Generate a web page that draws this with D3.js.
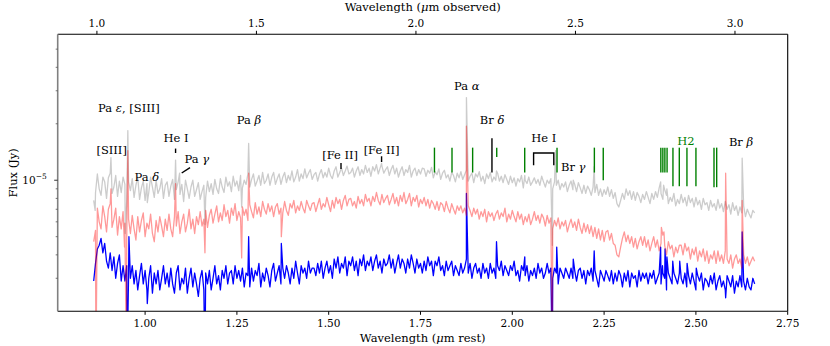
<!DOCTYPE html>
<html><head><meta charset="utf-8">
<script src="https://cdn.jsdelivr.net/npm/d3@7/dist/d3.min.js"></script>
<style>body{margin:0;background:#fff}svg{display:block}text{font-family:"DejaVu Serif",serif}</style>
</head><body><svg id="c" width="830" height="346"></svg>
<script>
// ---------------- DATA ----------------
// rest-frame wavelength grid (micron)
const wavelength = [
0.86,0.865,0.87,0.875,0.88,0.885,0.89,0.895,0.9,0.905,0.91,0.915,0.92,0.925,0.93,0.935,0.94,0.945,0.95,0.955,
0.96,0.965,0.97,0.975,0.98,0.985,0.99,0.995,1.0,1.005,1.01,1.015,1.02,1.025,1.03,1.035,1.04,1.045,1.05,1.055,
1.06,1.065,1.07,1.075,1.08,1.085,1.09,1.095,1.1,1.105,1.11,1.115,1.12,1.125,1.13,1.135,1.14,1.145,1.15,1.155,
1.16,1.165,1.17,1.175,1.18,1.185,1.19,1.195,1.2,1.205,1.21,1.215,1.22,1.225,1.23,1.235,1.24,1.245,1.25,1.255,
1.26,1.265,1.27,1.275,1.28,1.285,1.29,1.295,1.3,1.305,1.31,1.315,1.32,1.325,1.33,1.335,1.34,1.345,1.35,1.355,
1.36,1.365,1.37,1.375,1.38,1.385,1.39,1.395,1.4,1.405,1.41,1.415,1.42,1.425,1.43,1.435,1.44,1.445,1.45,1.455,
1.46,1.465,1.47,1.475,1.48,1.485,1.49,1.495,1.5,1.505,1.51,1.515,1.52,1.525,1.53,1.535,1.54,1.545,1.55,1.555,
1.56,1.565,1.57,1.575,1.58,1.585,1.59,1.595,1.6,1.605,1.61,1.615,1.62,1.625,1.63,1.635,1.64,1.645,1.65,1.655,
1.66,1.665,1.67,1.675,1.68,1.685,1.69,1.695,1.7,1.705,1.71,1.715,1.72,1.725,1.73,1.735,1.74,1.745,1.75,1.755,
1.76,1.765,1.77,1.775,1.78,1.785,1.79,1.795,1.8,1.805,1.81,1.815,1.82,1.825,1.83,1.835,1.84,1.845,1.85,1.855,
1.86,1.865,1.87,1.875,1.88,1.885,1.89,1.895,1.9,1.905,1.91,1.915,1.92,1.925,1.93,1.935,1.94,1.945,1.95,1.955,
1.96,1.965,1.97,1.975,1.98,1.985,1.99,1.995,2.0,2.005,2.01,2.015,2.02,2.025,2.03,2.035,2.04,2.045,2.05,2.055,
2.06,2.065,2.07,2.075,2.08,2.085,2.09,2.095,2.1,2.105,2.11,2.115,2.12,2.125,2.13,2.135,2.14,2.145,2.15,2.155,
2.16,2.165,2.17,2.175,2.18,2.185,2.19,2.195,2.2,2.205,2.21,2.215,2.22,2.225,2.23,2.235,2.24,2.245,2.25,2.255,
2.26,2.265,2.27,2.275,2.28,2.285,2.29,2.295,2.3,2.305,2.31,2.315,2.32,2.325,2.33,2.335,2.34,2.345,2.35,2.355,
2.36,2.365,2.37,2.375,2.38,2.385,2.39,2.395,2.4,2.405,2.41,2.415,2.42,2.425,2.43,2.435,2.44,2.445,2.45,2.455,
2.46,2.465,2.47,2.475,2.48,2.485,2.49,2.495,2.5,2.505,2.51,2.515,2.52,2.525,2.53,2.535,2.54,2.545,2.55,2.555,
2.56,2.565,2.57,2.575,2.58,2.585,2.59,2.595,2.6,2.605,2.61,2.615,2.62,2.625,2.63,2.635,2.64,2.645,2.65,2.655,
2.66];
// fluxes in units of 1e-6 Jy
const fluxGrey = [
7.8,8.6,10.8,9.0,8.3,10.4,9.8,8.0,10.3,10.9,8.5,9.2,10.6,8.2,9.9,8.6,10.4,9.5,7.9,9.8,
8.8,10.2,8.1,9.4,10.4,7.9,9.1,9.9,7.8,9.6,8.6,10.4,9.2,8.1,10.0,8.5,9.0,10.2,8.0,9.4,
9.8,8.2,9.3,10.1,7.9,8.9,9.8,8.4,9.5,7.7,10.0,9.0,8.0,9.2,10.0,8.2,8.9,9.7,7.9,8.7,
9.4,8.1,9.9,8.7,9.6,8.4,10.1,9.0,8.5,10.2,9.2,8.6,10.4,9.3,9.8,8.7,10.5,9.3,9.9,8.8,
10.6,9.1,10.0,9.5,10.8,9.2,10.1,10.8,9.3,9.9,10.6,9.4,11.0,9.6,10.0,10.8,9.4,10.4,11.0,9.5,
10.2,10.8,9.5,10.4,11.0,9.7,10.6,10.0,11.2,9.8,10.4,11.4,9.9,10.8,10.2,11.5,10.3,10.9,11.4,10.1,
10.7,11.0,9.9,10.8,11.4,10.3,11.0,10.4,11.6,10.6,10.2,11.2,11.8,10.4,11.0,11.6,10.6,11.2,11.9,10.8,
11.0,11.6,10.4,11.2,11.8,10.6,11.4,10.8,12.0,11.0,11.6,10.5,11.8,11.2,12.1,10.8,11.6,11.9,10.9,11.4,
11.8,10.6,11.4,12.0,10.8,11.6,10.4,11.2,11.8,10.6,11.4,11.0,12.0,10.4,11.2,11.6,10.6,11.4,10.8,11.6,
11.5,10.5,11.3,10.9,11.7,10.3,11.1,10.7,11.5,10.1,10.9,11.3,10.3,10.7,9.9,11.0,10.6,9.8,10.9,10.3,
11.1,10.1,10.7,11.3,9.9,10.5,10.9,9.7,10.8,10.4,11.1,9.9,10.5,9.6,10.8,10.2,11.0,9.8,10.4,10.0,
10.9,9.9,10.5,9.7,10.7,10.1,9.5,10.5,9.7,10.3,9.3,10.2,9.8,10.6,9.1,10.0,9.6,10.4,9.4,9.8,
10.3,9.6,10.1,9.4,10.5,9.8,9.2,10.0,9.6,10.2,9.0,9.8,9.4,10.0,8.9,9.6,9.2,9.8,8.7,9.4,
9.9,8.9,9.5,8.7,9.7,9.1,8.5,9.4,8.5,9.3,8.9,8.3,9.2,8.6,9.5,8.3,9.0,8.2,8.9,8.4,
9.2,8.2,8.9,8.0,8.6,7.5,7.2,7.8,8.5,7.9,9.0,8.3,8.8,7.9,8.7,7.8,8.6,8.2,7.6,8.4,
7.9,8.7,8.1,7.5,8.5,7.9,8.7,8.1,9.1,8.5,7.9,8.9,8.3,7.5,8.1,7.7,8.5,7.3,7.9,7.5,
8.4,7.6,8.1,7.3,8.3,7.6,8.0,7.2,8.1,7.4,7.8,7.0,8.0,7.4,7.6,6.9,7.8,7.2,7.5,6.9,
7.9,7.1,7.5,6.8,7.7,7.0,7.4,6.6,7.6,6.9,7.3,6.5,7.2,6.7,7.3,6.4,7.0,6.6,6.3,6.9,
6.7];
const fluxRed = [
4.7,5.4,7.1,6.0,5.5,7.3,6.4,5.3,7.0,7.5,5.6,6.2,7.1,5.1,6.4,5.5,6.8,5.9,4.9,6.2,
5.2,6.5,5.5,4.8,6.4,5.3,6.1,6.7,5.0,5.9,5.5,6.6,5.2,4.7,6.1,5.3,6.4,5.7,5.0,6.2,
5.4,6.6,5.5,5.0,6.4,5.7,6.8,5.2,6.0,6.6,5.3,5.9,7.0,5.5,6.2,5.2,6.4,5.8,6.8,5.7,
6.2,6.9,5.6,6.5,7.0,5.9,6.6,7.3,6.0,6.7,6.1,7.4,6.4,6.9,5.9,7.1,6.5,7.5,6.1,6.8,
6.3,7.2,6.5,7.0,6.1,7.4,6.8,6.3,7.6,6.6,7.2,6.4,7.7,7.0,6.6,7.5,6.8,7.3,6.4,7.2,
7.5,6.6,7.1,6.7,7.7,6.9,6.5,7.5,7.1,7.8,6.7,7.3,6.9,7.7,7.1,6.7,7.8,7.3,6.9,7.5,
7.6,6.8,7.4,8.0,7.0,7.5,7.2,8.1,7.4,6.8,7.8,7.1,8.1,7.5,7.9,7.0,7.8,8.3,7.3,7.9,
8.0,7.3,7.7,7.1,8.2,7.5,7.9,7.3,8.4,7.7,8.0,7.3,8.2,7.7,8.6,7.8,7.4,8.4,7.6,8.0,
8.3,7.4,7.9,8.5,7.5,8.1,7.3,8.3,7.7,8.6,7.5,7.9,8.5,7.3,8.1,7.7,8.3,7.2,7.9,7.5,
8.1,7.3,7.9,7.1,7.8,7.5,7.0,7.7,6.9,7.6,7.4,6.8,7.7,7.1,6.7,7.5,7.0,6.6,7.3,6.9,
7.3,6.7,7.1,6.5,7.3,6.9,6.4,7.1,6.6,7.0,6.2,6.8,6.4,7.0,6.0,6.8,6.4,6.7,6.1,6.6,
6.9,6.2,6.7,6.4,7.1,6.0,6.6,6.2,6.9,6.4,6.0,6.8,6.2,6.6,5.8,6.4,6.0,6.6,5.8,6.2,
6.8,6.1,6.5,5.9,6.6,6.3,5.7,6.5,5.9,6.3,5.5,6.1,5.7,6.3,5.5,6.0,5.7,6.1,5.3,5.8,
6.2,5.6,6.0,5.4,6.2,5.6,5.2,5.9,5.3,5.8,5.2,5.7,5.0,5.6,4.9,5.5,4.8,5.4,4.7,5.3,
5.4,4.8,5.2,4.6,4.5,4.0,3.9,4.4,4.9,5.3,4.7,5.1,4.6,5.0,4.4,4.9,4.3,4.7,5.0,4.5,
5.0,4.4,4.8,4.2,4.6,5.0,4.4,4.8,4.2,4.6,5.1,4.5,4.0,4.7,4.3,4.5,3.9,4.4,4.1,4.5,
4.5,4.0,4.6,4.2,4.4,3.8,4.3,4.0,4.4,3.7,4.2,3.9,4.3,3.7,4.2,3.6,4.0,3.8,4.2,3.6,
4.2,3.7,4.0,3.6,4.2,3.8,3.6,4.0,3.4,3.8,4.0,3.6,3.8,3.4,4.0,3.6,3.9,3.5,3.7,3.9,
3.7];
const fluxBlue = [
2.9,3.6,4.3,4.5,4.9,4.1,4.6,3.7,3.4,4.1,3.3,3.9,3.0,3.6,4.0,2.9,3.5,2.9,3.5,3.1,
3.0,3.5,2.8,3.3,2.6,3.1,3.6,2.8,3.3,2.6,3.0,3.5,2.5,3.2,2.8,3.3,2.6,3.0,3.5,2.8,
3.2,2.7,3.4,2.8,2.5,3.2,3.5,2.6,3.0,2.8,3.4,2.5,3.0,3.4,2.7,3.2,2.8,2.4,3.0,3.3,
2.6,3.2,2.8,3.3,2.6,3.0,3.5,2.8,3.1,2.6,3.3,3.0,3.5,2.8,3.2,3.3,2.8,3.5,3.0,3.3,
2.9,3.4,2.7,3.2,3.1,2.7,3.4,2.9,3.3,3.1,3.6,2.7,3.2,2.9,3.4,3.1,2.7,3.3,3.6,2.9,
3.2,3.5,2.8,3.4,3.0,3.5,3.2,2.8,3.4,3.0,3.7,3.2,2.8,3.5,3.2,3.4,3.0,3.7,3.2,3.4,
3.4,3.1,3.6,3.2,3.7,3.0,3.4,3.7,3.2,3.5,3.0,3.8,3.4,3.9,3.2,3.6,3.4,3.9,3.1,3.7,
3.5,3.9,3.3,3.7,3.1,3.8,3.5,4.0,3.3,3.7,3.5,3.9,3.3,3.7,4.0,3.4,3.7,3.2,3.8,3.5,
3.6,4.0,3.4,3.8,3.2,3.6,4.0,3.4,3.8,3.6,3.2,3.8,3.4,4.0,3.6,3.2,3.8,3.4,3.6,3.2,
3.7,3.3,3.9,3.5,3.7,3.1,3.7,3.5,3.9,3.3,3.5,3.1,3.7,3.3,3.5,3.7,3.1,3.5,3.3,3.1,
3.6,3.2,3.4,3.8,3.2,3.6,3.0,3.4,3.6,3.2,3.4,3.0,3.6,3.2,3.4,3.0,3.6,3.2,3.4,3.0,
3.5,3.3,3.7,3.1,3.5,3.3,3.1,3.5,3.3,3.7,3.1,3.3,2.9,3.5,3.3,3.1,3.5,2.9,3.3,3.1,
3.4,3.0,3.6,3.2,3.4,3.0,3.2,3.6,3.2,3.4,3.0,3.4,3.2,2.8,3.4,3.2,3.0,3.4,3.2,3.0,
3.4,3.0,3.3,2.9,3.3,3.4,3.0,3.3,2.8,3.3,3.1,3.4,2.9,3.3,3.0,2.7,3.3,3.1,2.9,3.3,
3.1,2.9,3.3,2.8,3.2,2.9,3.3,3.1,2.7,3.2,2.9,3.3,2.7,3.2,3.0,3.1,2.7,3.3,2.9,3.2,
3.0,3.2,2.8,3.2,3.0,3.3,2.8,3.0,3.2,2.8,3.2,3.0,2.6,3.2,3.0,2.8,3.2,3.0,2.8,3.2,
3.0,2.8,3.2,2.7,3.1,2.8,3.2,2.9,2.6,3.1,2.9,3.2,2.6,3.0,2.9,2.7,3.1,2.8,3.2,2.6,
2.9,3.1,2.7,2.9,2.6,3.1,2.9,2.7,3.1,2.5,2.9,2.7,3.1,2.7,2.9,2.6,3.0,2.7,2.6,3.0,
2.8];
// narrow features [wavelength, flux(1e-6 Jy)]
const linesGrey = [[0.864,6.9],[0.907,13.2],[0.946,5.2],[0.953,18.4],[1.006,7.6],[1.083,12.8],[1.094,10.9],
  [1.163,5.8],[1.263,7.2],[1.282,15.7],[1.534,11.5],[1.644,12.3],[1.8751,27.6],[1.957,11.2],[2.034,10.6],
  [2.109,4.5],[2.118,14.4],[2.166,10.0],[2.223,11.8],[2.404,9.8],[2.412,9.4],[2.421,9.0],[2.626,13.1]];
const linesRed = [[0.866,1.0],[0.907,9.0],[0.944,4.4],[0.949,1.0],[0.953,14.4],[1.083,9.6],[1.163,4.1],
  [1.263,3.85],[1.282,10.9],[1.371,5.0],[1.8751,19.4],[2.109,1.0],[2.406,5.6],[2.413,5.3],[2.581,10.9],[2.626,7.8]];
const linesBlue = [[0.951,1.0],[0.956,5.0],[1.006,2.2],[1.163,1.0],[1.282,5.0],[1.371,4.6],[1.8751,8.5],
  [1.957,4.7],[2.034,3.9],[2.109,1.0],[2.121,4.4],[2.166,3.8],[2.223,4.2],[2.404,4.4],[2.409,3.5],
  [2.416,4.3],[2.421,3.9],[2.437,3.7],[2.456,3.7],[2.476,3.6],[2.501,3.4],[2.581,2.36],[2.626,5.3]];
const redshift = 0.151;
const restTicks = [1.00,1.25,1.50,1.75,2.00,2.25,2.50,2.75];
const obsTicks = [1.0,1.5,2.0,2.5,3.0];
const fluxMajorTicks = [1e-5];
const fluxMinorTicks = [3e-6,4e-6,5e-6,6e-6,7e-6,8e-6,9e-6,2e-5,3e-5,4e-5,5e-5];
// line identifications: text, wavelength, flux (1e-6 Jy) of baseline
const lineLabels = [
  ["Pa ε, [SIII]",0.956,23.0],["[SIII]",0.909,13.87],["He I",1.084,15.98],["Pa γ",1.141,12.36],
  ["Pa δ",1.005,9.91],["Pa β",1.283,20.0],["[Fe II]",1.531,13.05],["[Fe II]",1.644,13.87],
  ["Pa α",1.876,30.1],["Br δ",1.945,20.0],["He I",2.086,15.98],["Br γ",2.166,11.21],["Br β",2.623,15.16]];
const h2Label = ["H2",2.473,15.35];
// black identification marks: [w1,f1,w2,f2]
const markSegments = [[1.083,14.75,1.083,13.97],[1.0997,10.93,1.1223,11.68],[1.5335,12.36,1.5335,11.48],
  [1.644,13.42,1.644,12.51],[1.9446,16.74,1.9446,10.99]];
const heBracket = [2.058,2.113,13.97,12.02];
// H2 line markers: [wavelength, lower flux]; upper flux shared
const h2Top = 14.92;
const h2Lines = [[1.7880,10.99],[1.8358,10.99],[1.8920,10.99],[1.9576,13.3],[2.0338,10.99],[2.1218,10.99],
  [2.2235,10.99],[2.2477,10.0],[2.4045,10.99],[2.4100,10.99],[2.4155,10.99],[2.4215,10.99],
  [2.4375,9.29],[2.4548,9.29],[2.4756,9.29],[2.5001,9.29],[2.5493,9.18],[2.5566,9.18]];

// ---------------- CHART ----------------
const L = 57.7, R = 787.7, T = 34.3, B = 311.3;
const svg = d3.select("#c");
const x = d3.scaleLinear().domain([0.762, 2.75]).range([L, R]);
const xTop = d3.scaleLinear().domain([0.762 * (1 + redshift), 2.75 * (1 + redshift)]).range([L, R]);
const y = d3.scaleLog().domain([2.0e-6, 6.0e-5]).range([B, T]);
const u = 1e-6;

svg.append("defs").append("clipPath").attr("id", "clip")
  .append("rect").attr("x", L).attr("y", T).attr("width", R - L).attr("height", B - T);

function merged(fl, lines) {
  return wavelength.map((w, i) => [w, fl[i]]).concat(lines).sort((a, b) => a[0] - b[0]);
}
const line = d3.line().x(d => x(d[0])).y(d => y(Math.max(d[1], 0.5) * u));
const g = svg.append("g").attr("clip-path", "url(#clip)");
const sw = 1.3;
g.append("path").attr("d", line(merged(fluxGrey, linesGrey))).attr("fill", "none")
  .attr("stroke", "grey").attr("stroke-opacity", 0.4).attr("stroke-width", sw).attr("stroke-linejoin", "round");
g.append("path").attr("d", line(merged(fluxBlue, linesBlue))).attr("fill", "none")
  .attr("stroke", "blue").attr("stroke-width", sw).attr("stroke-linejoin", "round");
g.append("path").attr("d", line(merged(fluxRed, linesRed))).attr("fill", "none")
  .attr("stroke", "red").attr("stroke-opacity", 0.4).attr("stroke-width", sw).attr("stroke-linejoin", "round");

// marks
const ann = svg.append("g");
markSegments.forEach(s => ann.append("line").attr("x1", x(s[0])).attr("y1", y(s[1] * u))
  .attr("x2", x(s[2])).attr("y2", y(s[3] * u)).attr("stroke", "black").attr("stroke-width", 1.4));
ann.append("path").attr("fill", "none").attr("stroke", "black").attr("stroke-width", 1.4)
  .attr("d", `M${x(heBracket[0])},${y(heBracket[3] * u)}V${y(heBracket[2] * u)}H${x(heBracket[1])}V${y(heBracket[3] * u)}`);
h2Lines.forEach(s => ann.append("line").attr("x1", x(s[0])).attr("x2", x(s[0]))
  .attr("y1", y(h2Top * u)).attr("y2", y(s[1] * u)).attr("stroke", "green").attr("stroke-width", 1.4));

function richText(sel, str) {
  str.split(/([α-ω])/).forEach(p => {
    if (!p) return;
    const t = sel.append("tspan").text(p);
    if (/[α-ω]/.test(p)) t.attr("font-style", "italic");
  });
}
lineLabels.forEach(l => {
  const t = ann.append("text").attr("x", x(l[1])).attr("y", y(l[2] * u))
    .attr("text-anchor", "middle").attr("font-size", 11.5).attr("fill", "black");
  richText(t, l[0]);
});
ann.append("text").attr("x", x(h2Label[1])).attr("y", y(h2Label[2] * u)).attr("text-anchor", "middle")
  .attr("font-size", 11.5).attr("fill", "green").text(h2Label[0]);

// axes
const ax = svg.append("g");
ax.append("line").attr("x1", L).attr("x2", R).attr("y1", B).attr("y2", B).attr("stroke", "black").attr("stroke-width", 1.1);
ax.append("line").attr("x1", L).attr("x2", R).attr("y1", T).attr("y2", T).attr("stroke", "black").attr("stroke-width", 1.1);
ax.append("line").attr("x1", R).attr("x2", R).attr("y1", T).attr("y2", B).attr("stroke", "black").attr("stroke-width", 1.1);
ax.append("line").attr("x1", L).attr("x2", L).attr("y1", T).attr("y2", B).attr("stroke", "#808080").attr("stroke-width", 1.6);

restTicks.forEach(v => {
  ax.append("line").attr("x1", x(v)).attr("x2", x(v)).attr("y1", B).attr("y2", B + 3.5).attr("stroke", "black");
  ax.append("text").attr("x", x(v)).attr("y", B + 16).attr("text-anchor", "middle").attr("font-size", 10.5).text(d3.format(".2f")(v));
});
obsTicks.forEach(v => {
  ax.append("line").attr("x1", xTop(v)).attr("x2", xTop(v)).attr("y1", T).attr("y2", T - 3.5).attr("stroke", "black");
  ax.append("text").attr("x", xTop(v)).attr("y", T - 7.6).attr("text-anchor", "middle").attr("font-size", 10.5).text(d3.format(".1f")(v));
});
fluxMinorTicks.forEach(v => ax.append("line").attr("x1", L - 2).attr("x2", L).attr("y1", y(v)).attr("y2", y(v))
  .attr("stroke", "#555").attr("stroke-width", 0.8));
fluxMajorTicks.forEach(v => {
  ax.append("line").attr("x1", L - 3.5).attr("x2", L).attr("y1", y(v)).attr("y2", y(v)).attr("stroke", "#333");
  const exp = Math.round(Math.log10(v));
  const t = ax.append("text").attr("x", L - 11).attr("y", y(v) + 3.5).attr("text-anchor", "end").attr("font-size", 10.5);
  t.append("tspan").text("10");
  t.append("tspan").attr("dy", -5).attr("font-size", 7.5).text("−" + Math.abs(exp));
});
function axisLabel(sel, pre, post) {
  sel.append("tspan").text(pre);
  sel.append("tspan").attr("font-style", "italic").text("μ");
  sel.append("tspan").text(post);
}
axisLabel(ax.append("text").attr("x", (L + R) / 2).attr("y", 341.5).attr("text-anchor", "middle").attr("font-size", 11.5),
  "Wavelength (", "m rest)");
axisLabel(ax.append("text").attr("x", (L + R) / 2).attr("y", 11).attr("text-anchor", "middle").attr("font-size", 11.5),
  "Wavelength (", "m observed)");
ax.append("text").attr("transform", `translate(16.5,${(T + B) / 2}) rotate(-90)`).attr("text-anchor", "middle")
  .attr("font-size", 11.5).text("Flux (Jy)");
</script></body></html>
